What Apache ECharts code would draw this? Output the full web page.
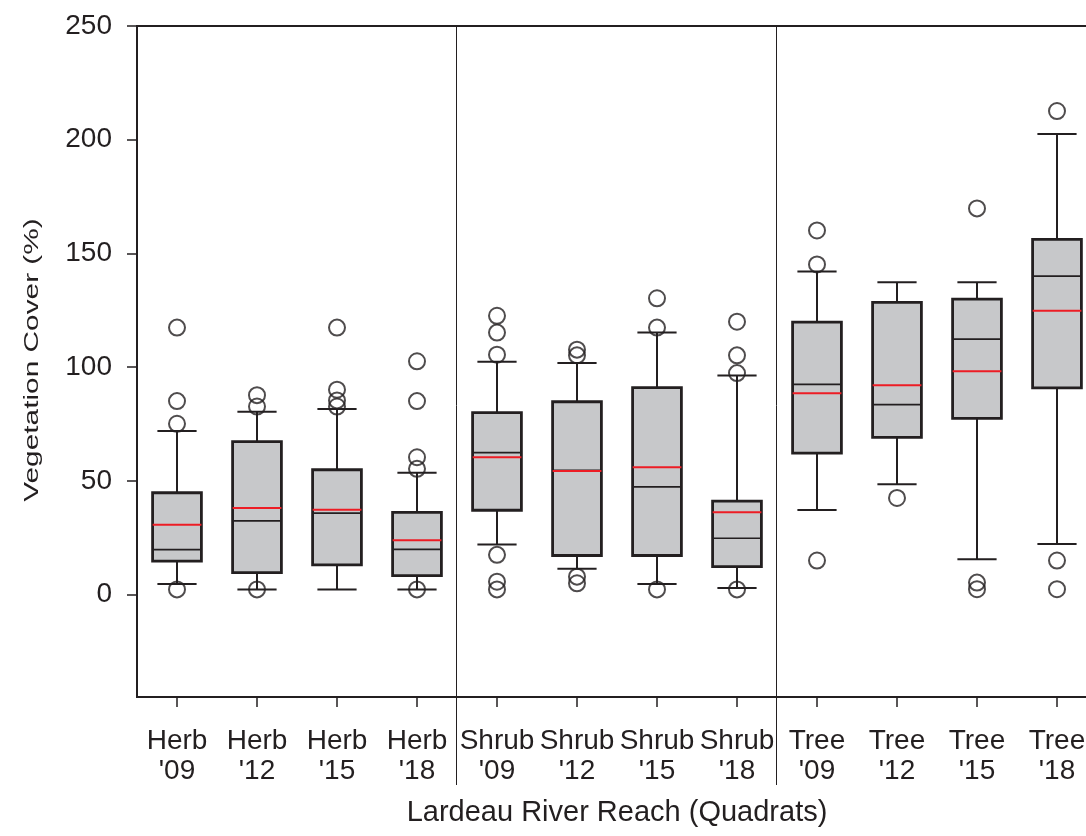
<!DOCTYPE html>
<html>
<head>
<meta charset="utf-8">
<script src="https://cdn.jsdelivr.net/npm/echarts@6/dist/echarts.min.js"></script>
<style>
  html, body { margin: 0; padding: 0; background: #ffffff; overflow: hidden; }
  #chart { width: 1086px; height: 836px; }
</style>
</head>
<body>
<div id="chart"></div>
<script>
// ---- data ----
const categories = ["Herb\n'09", "Herb\n'12", "Herb\n'15", "Herb\n'18",
                    "Shrub\n'09", "Shrub\n'12", "Shrub\n'15", "Shrub\n'18",
                    "Tree\n'09", "Tree\n'12", "Tree\n'15", "Tree\n'18"];
const whiskerLow  = [4.7, 2.3, 2.3, 2.3, 22.1, 11.4, 4.7, 2.9, 37.2, 48.5, 15.6, 22.3];
const q1          = [14.7, 9.7, 13.1, 8.4, 37.1, 17.2, 17.2, 12.3, 62.2, 69.1, 77.5, 90.9];
const medians     = [19.8, 32.4, 35.8, 19.9, 62.4, 54.6, 47.4, 24.8, 92.4, 83.5, 112.3, 140.0];
const q3          = [44.8, 67.3, 54.9, 36.2, 80.0, 84.8, 91.0, 41.1, 119.8, 128.5, 129.9, 156.2];
const whiskerHigh = [71.9, 80.4, 81.6, 53.6, 102.4, 101.8, 115.2, 96.3, 142.1, 137.3, 137.3, 202.5];
const means       = [30.7, 38.1, 37.3, 23.9, 60.4, 54.4, 56.0, 36.2, 88.5, 92.1, 98.2, 124.8];
const outliers = [
  [117.4, 85.1, 75.1, 2.3],
  [87.7, 82.7, 2.3],
  [117.4, 90.1, 85.4, 82.7],
  [102.6, 85.1, 60.4, 55.3, 2.3],
  [122.6, 115.2, 105.5, 17.5, 5.7, 2.3],
  [107.7, 105.2, 7.9, 5.0],
  [130.3, 117.4, 2.3],
  [120.0, 105.2, 97.4, 2.3],
  [160.1, 145.2, 15.0],
  [42.5],
  [169.8, 5.3, 2.4],
  [212.6, 15.0, 2.4]
];
const yTickValues = [0, 50, 100, 150, 200, 250];
const groupBoundaries = [3, 7]; // separator after these category indices
const xTitle = 'Lardeau River Reach (Quadrats)';
const yTitle = 'Vegetation Cover (%)';

// ---- styling ----
const INK = '#231f20';
const BOX_FILL = '#c7c8ca';
const MEAN_RED = '#ed1c24';
const FONT = '"Liberation Sans", Arial, Helvetica, sans-serif';

const boxData = categories.map((c, i) =>
  [i, whiskerLow[i], q1[i], medians[i], q3[i], whiskerHigh[i], means[i]]);
const outlierData = [];
outliers.forEach((list, i) => list.forEach(v => outlierData.push([i, v])));

const chart = echarts.init(document.getElementById('chart'), null, { renderer: 'canvas' });

chart.setOption({
  animation: false,
  backgroundColor: '#ffffff',
  grid: {
    left: 137, width: 960, top: 26, bottom: 139,
    containLabel: false,
    outerBoundsMode: 'none',
    show: true, borderColor: INK, borderWidth: 2, backgroundColor: 'transparent'
  },
  xAxis: {
    type: 'category',
    data: categories,
    boundaryGap: true,
    name: xTitle,
    nameLocation: 'middle',
    nameGap: 101,
    nameTextStyle: { fontFamily: FONT, fontSize: 29, color: INK },
    axisLine: { show: true, onZero: false, lineStyle: { color: INK, width: 2 } },
    axisTick: { show: true, alignWithLabel: true, length: 10, lineStyle: { color: INK, width: 1.5 } },
    axisLabel: { interval: 0, fontFamily: FONT, fontSize: 28, lineHeight: 30, color: INK, margin: 29,
                 hideOverlap: false },
    splitLine: { show: false }
  },
  yAxis: {
    type: 'value',
    min: -45,
    max: 250,
    axisLine: { show: true, onZero: false, lineStyle: { color: INK, width: 2 } },
    axisTick: { show: true, length: 10, customValues: yTickValues, lineStyle: { color: INK, width: 1.5 } },
    axisLabel: { customValues: yTickValues, fontFamily: FONT, fontSize: 28, color: INK, margin: 25 },
    splitLine: { show: false }
  },
  graphic: [{
    type: 'text',
    x: 32,
    y: 360,
    rotation: Math.PI / 2,
    scaleX: 1.42,
    style: {
      text: yTitle,
      fontFamily: FONT,
      fontSize: 21,
      fill: INK,
      align: 'center',
      verticalAlign: 'middle'
    }
  }],
  series: [
    {
      type: 'custom',
      name: 'separators',
      clip: false,
      silent: true,
      data: groupBoundaries.map(i => [i]),
      encode: { x: 0 },
      renderItem: function (params, api) {
        const i = api.value(0);
        const a = api.coord([i, 250]);
        const b = api.coord([i + 1, -45]);
        const x = Math.round((a[0] + b[0]) / 2) - 0.5;
        return {
          type: 'line',
          shape: { x1: x, y1: a[1], x2: x, y2: b[1] + 88 },
          style: { stroke: INK, lineWidth: 1 }
        };
      }
    },
    {
      type: 'custom',
      name: 'boxes',
      clip: false,
      data: boxData,
      encode: { x: 0, y: [1, 2, 3, 4, 5] },
      renderItem: function (params, api) {
        const i = api.value(0);
        const band = api.size([1, 0])[0];
        const bw = band * 0.61;
        const cw = band * 0.49;
        const pLo = api.coord([i, api.value(1)]);
        const pQ1 = api.coord([i, api.value(2)]);
        const pMed = api.coord([i, api.value(3)]);
        const pQ3 = api.coord([i, api.value(4)]);
        const pHi = api.coord([i, api.value(5)]);
        const pMean = api.coord([i, api.value(6)]);
        const x = pQ1[0];
        const wStyle = { stroke: INK, lineWidth: 2 };
        return {
          type: 'group',
          children: [
            { type: 'line', shape: { x1: x, y1: pHi[1], x2: x, y2: pQ3[1] }, style: wStyle },
            { type: 'line', shape: { x1: x, y1: pQ1[1], x2: x, y2: pLo[1] }, style: wStyle },
            { type: 'line', shape: { x1: x - cw / 2, y1: pHi[1], x2: x + cw / 2, y2: pHi[1] }, style: wStyle },
            { type: 'line', shape: { x1: x - cw / 2, y1: pLo[1], x2: x + cw / 2, y2: pLo[1] }, style: wStyle },
            { type: 'rect', shape: { x: x - bw / 2, y: pQ3[1], width: bw, height: pQ1[1] - pQ3[1] },
              style: { fill: BOX_FILL, stroke: INK, lineWidth: 2.8 } },
            { type: 'line', shape: { x1: x - bw / 2, y1: pMed[1], x2: x + bw / 2, y2: pMed[1] },
              style: { stroke: INK, lineWidth: 1.7 } },
            { type: 'line', shape: { x1: x - bw / 2, y1: pMean[1], x2: x + bw / 2, y2: pMean[1] },
              style: { stroke: MEAN_RED, lineWidth: 2 } }
          ]
        };
      }
    },
    {
      type: 'scatter',
      name: 'outliers',
      data: outlierData,
      symbol: 'circle',
      symbolSize: 16,
      itemStyle: { color: 'rgba(0,0,0,0)', borderColor: INK, borderWidth: 2 },
      z: 5
    }
  ]
});
</script>
</body>
</html>
